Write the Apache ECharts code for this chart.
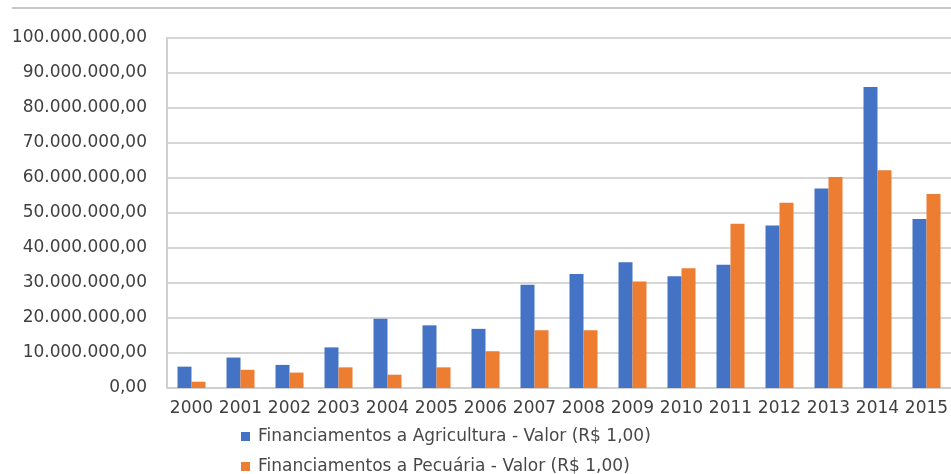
<!DOCTYPE html>
<html>
<head>
<meta charset="utf-8">
<script src="https://cdn.jsdelivr.net/npm/echarts@6/dist/echarts.min.js"></script>
<style>
  html, body { margin: 0; padding: 0; background: #ffffff; }
  #chart { width: 951px; height: 474px; }
</style>
</head>
<body>
<div id="chart"></div>
<script>
// Anos da série
const anos = ['2000', '2001', '2002', '2003', '2004', '2005', '2006', '2007',
  '2008', '2009', '2010', '2011', '2012', '2013', '2014', '2015'];

// Financiamentos a Agricultura - Valor (R$ 1,00)
const agricultura = [6100000, 8700000, 6600000, 11600000, 19800000, 17900000, 16900000, 29500000,
  32600000, 35900000, 31900000, 35200000, 46400000, 57000000, 86000000, 48300000];

// Financiamentos a Pecuária - Valor (R$ 1,00)
const pecuaria = [1800000, 5200000, 4400000, 5900000, 3800000, 5900000, 10500000, 16500000,
  16500000, 30400000, 34200000, 46900000, 52900000, 60300000, 62200000, 55400000];

const nomeAgricultura = 'Financiamentos a Agricultura - Valor (R$ 1,00)';
const nomePecuaria = 'Financiamentos a Pecuária - Valor (R$ 1,00)';

// Eixo de valores: 0 a 100 milhões, passo de 10 milhões
const eixoMin = 0;
const eixoMax = 100000000;
const eixoPasso = 10000000;

// Formata no padrão brasileiro: 10.000.000,00
function formatoBR(v) {
  const inteiro = Math.round(v).toString().replace(/\B(?=(\d{3})+(?!\d))/g, '.');
  return inteiro + ',00';
}

const corTexto = '#484848';
const fonte = 'DejaVu Sans';

// Uma legenda por linha, empilhadas
function legendaLinha(nome, topo) {
  return {
    orient: 'vertical',
    left: 236,
    top: topo,
    itemWidth: 9,
    itemHeight: 9,
    icon: 'rect',
    textStyle: { color: corTexto, fontFamily: fonte, fontSize: 17, padding: [0, 0, 0, 3] },
    data: [nome]
  };
}

const chart = echarts.init(document.getElementById('chart'), null, { renderer: 'canvas' });

chart.setOption({
  animation: false,
  backgroundColor: '#ffffff',
  color: ['#4472C4', '#ED7D31'],
  grid: { left: 167, top: 38, bottom: 86, right: -8, containLabel: false },
  legend: [
    legendaLinha(nomeAgricultura, 423),
    legendaLinha(nomePecuaria, 453)
  ],
  xAxis: {
    type: 'category',
    data: anos,
    axisTick: { show: false },
    axisLine: { show: true, lineStyle: { color: '#d0d0d0', width: 2 } },
    axisLabel: { color: '#404040', fontFamily: fonte, fontSize: 17, margin: 12, interval: 0 }
  },
  yAxis: {
    type: 'value',
    min: eixoMin,
    max: eixoMax,
    interval: eixoPasso,
    axisLine: { show: true, lineStyle: { color: '#d0d0d0', width: 2 } },
    axisTick: { show: false },
    splitLine: { show: true, lineStyle: { color: '#d6d6d6', width: 2 } },
    axisLabel: {
      color: '#404040',
      fontFamily: fonte,
      fontSize: 17,
      margin: 20,
      formatter: formatoBR
    }
  },
  series: [
    {
      name: nomeAgricultura,
      type: 'bar',
      data: agricultura,
      barWidth: 14,
      barGap: '0%'
    },
    {
      name: nomePecuaria,
      type: 'bar',
      data: pecuaria,
      barWidth: 14,
      barGap: '0%'
    }
  ],
  graphic: [
    {
      type: 'line',
      shape: { x1: 12, y1: 8, x2: 951, y2: 8 },
      style: { stroke: '#c8c8c8', lineWidth: 2 },
      silent: true
    }
  ]
});
</script>
</body>
</html>
